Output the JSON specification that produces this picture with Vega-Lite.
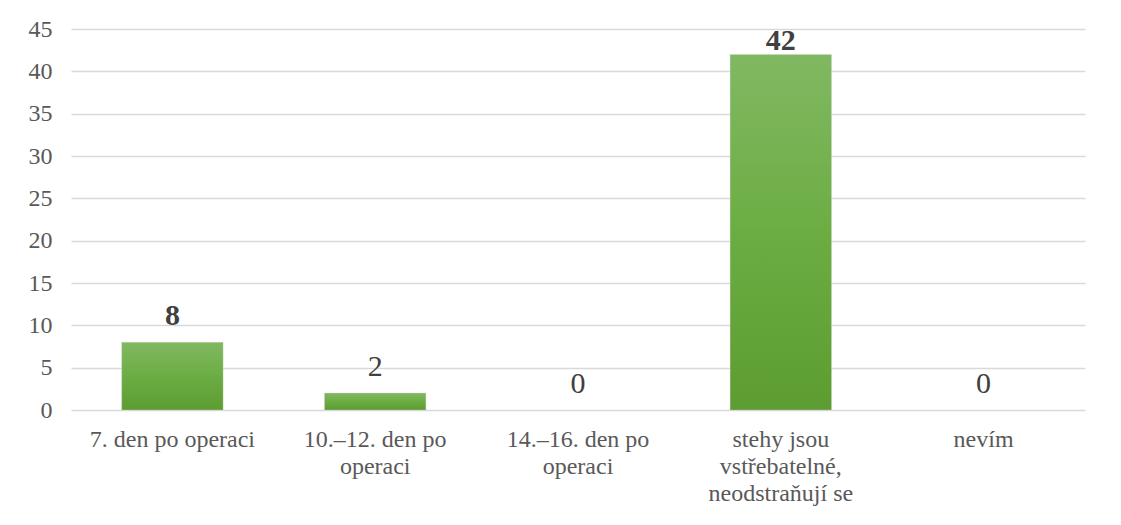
{
  "$schema": "https://vega.github.io/schema/vega-lite/v6.json",
  "autosize": "none",
  "width": 1014,
  "height": 381,
  "padding": {"left": 71, "top": 29, "right": 36, "bottom": 115},
  "background": "white",
  "config": {
    "view": {"stroke": null},
    "font": "Liberation Serif",
    "text": {"font": "Liberation Serif"}
  },
  "data": {
    "values": [
      {"kategorie": "7. den po operaci", "pocet": 8},
      {"kategorie": "10.–12. den po|operaci", "pocet": 2},
      {"kategorie": "14.–16. den po|operaci", "pocet": 0},
      {"kategorie": "stehy jsou|vstřebatelné,|neodstraňují se", "pocet": 42},
      {"kategorie": "nevím", "pocet": 0}
    ]
  },
  "encoding": {
    "x": {
      "field": "kategorie",
      "type": "nominal",
      "sort": ["7. den po operaci", "10.–12. den po|operaci", "14.–16. den po|operaci", "stehy jsou|vstřebatelné,|neodstraňují se", "nevím"],
      "scale": {"paddingInner": 0.5, "paddingOuter": 0.25},
      "axis": {
        "title": null,
        "labelAngle": 0,
        "labelExpr": "split(datum.label, '|')",
        "labelFont": "Liberation Serif",
        "labelFontSize": 24,
        "labelColor": "#595959",
        "labelLineHeight": 27,
        "labelPadding": 17,
        "labelBaseline": "top",
        "ticks": false,
        "domain": false
      }
    },
    "y": {
      "field": "pocet",
      "type": "quantitative",
      "scale": {"domain": [0, 45], "nice": false},
      "axis": {
        "title": null,
        "values": [0, 5, 10, 15, 20, 25, 30, 35, 40, 45],
        "labelFont": "Liberation Serif",
        "labelFontSize": 24,
        "labelColor": "#595959",
        "labelPadding": 19,
        "ticks": false,
        "domain": false,
        "gridColor": "#d9d9d9",
        "gridWidth": 1.5
      }
    }
  },
  "layer": [
    {
      "transform": [{"filter": "datum.pocet > 0"}],
      "mark": {
        "type": "bar",
        "color": {
          "gradient": "linear",
          "x1": 0, "y1": 0, "x2": 0, "y2": 1,
          "stops": [
            {"offset": 0, "color": "#81b862"},
            {"offset": 0.5, "color": "#6cad43"},
            {"offset": 1, "color": "#5c9c31"}
          ]
        },
        "stroke": "#cfcfcf",
        "strokeWidth": 0.6,
        "strokeOpacity": 0.6
      }
    },
    {
      "transform": [{"filter": "datum.pocet < 5"}],
      "mark": {
        "type": "text",
        "baseline": "alphabetic",
        "dy": -17,
        "fontSize": 30,
        "fontWeight": "normal",
        "color": "#404040"
      },
      "encoding": {
        "text": {"field": "pocet", "type": "quantitative"}
      }
    },
    {
      "transform": [{"filter": "datum.pocet >= 5 && datum.pocet < 40"}],
      "mark": {
        "type": "text",
        "baseline": "alphabetic",
        "dy": -17,
        "fontSize": 30,
        "fontWeight": "bold",
        "color": "#404040"
      },
      "encoding": {
        "text": {"field": "pocet", "type": "quantitative"}
      }
    },
    {
      "transform": [{"filter": "datum.pocet >= 40"}],
      "mark": {
        "type": "text",
        "baseline": "alphabetic",
        "dy": -4,
        "fontSize": 30,
        "fontWeight": "bold",
        "color": "#404040"
      },
      "encoding": {
        "text": {"field": "pocet", "type": "quantitative"}
      }
    }
  ]
}
